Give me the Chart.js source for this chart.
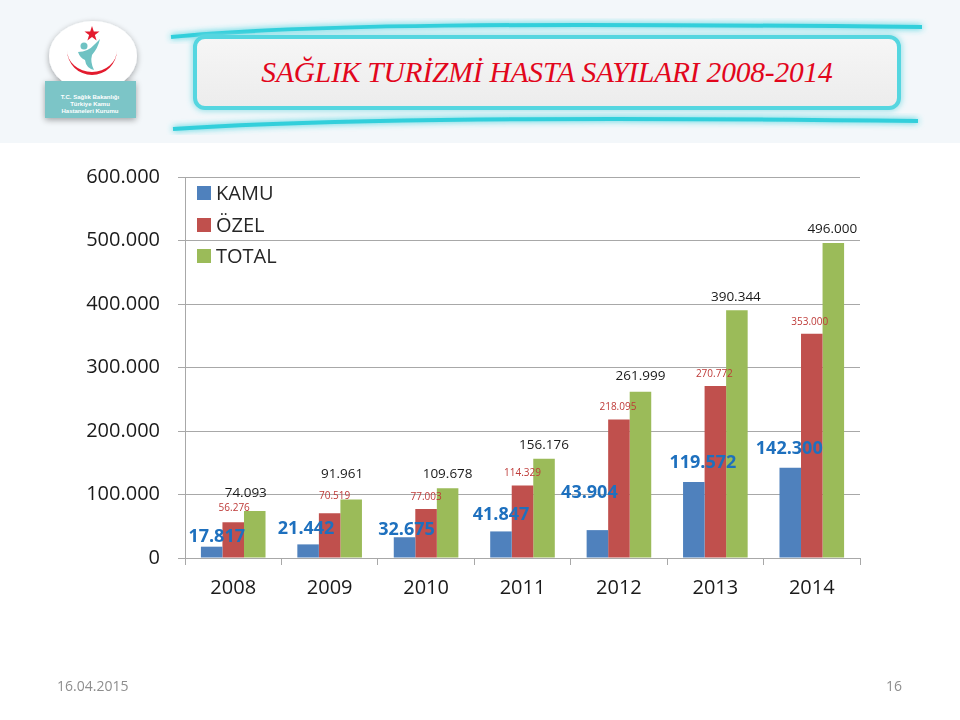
<!DOCTYPE html>
<html>
<head>
<meta charset="utf-8">
<script src="https://cdn.jsdelivr.net/npm/chart.js@4"></script>
<style>
  html, body { margin:0; padding:0; }
  body { width:960px; height:720px; position:relative; overflow:hidden; background:#ffffff; font-family:"Open Sans", sans-serif; }
  #hdr { position:absolute; left:0; top:0; width:960px; height:143px; }
  #title { position:absolute; left:195px; top:37px; width:704px; height:71px; display:flex; align-items:center; justify-content:center;
           font-family:"Liberation Serif", "DejaVu Serif", serif; font-style:italic; font-size:29.5px; color:#E2061C; letter-spacing:-0.2px; padding-left:0px; box-sizing:border-box; }
  #chart { position:absolute; left:0; top:0; }
  #legend { position:absolute; left:197px; top:178px; }
  .li { position:absolute; left:0; height:30px; white-space:nowrap; font-size:20px; color:#262626; }
  .sw { position:absolute; left:0; width:14px; height:14px; }
  .lt { position:absolute; left:19px; line-height:30px; top:0; }
  .foot { position:absolute; top:676px; font-size:14px; color:#8E8E8E; font-family:"Open Sans", sans-serif; }
</style>
</head>
<body>
<svg id="hdr" width="960" height="143" viewBox="0 0 960 143">
  <defs>
    <filter id="glow" x="-20%" y="-50%" width="140%" height="200%">
      <feGaussianBlur stdDeviation="3" result="b"/>
      <feMerge><feMergeNode in="b"/><feMergeNode in="SourceGraphic"/></feMerge>
    </filter>
    <filter id="shadow" x="-30%" y="-30%" width="160%" height="160%">
      <feGaussianBlur in="SourceAlpha" stdDeviation="3"/>
      <feOffset dx="0" dy="2" result="o"/>
      <feComponentTransfer><feFuncA type="linear" slope="0.35"/></feComponentTransfer>
      <feMerge><feMergeNode/><feMergeNode in="SourceGraphic"/></feMerge>
    </filter>
    <linearGradient id="boxg" x1="0" y1="0" x2="0" y2="1">
      <stop offset="0" stop-color="#F6F6F6"/>
      <stop offset="1" stop-color="#ECECEC"/>
    </linearGradient>
  </defs>
  <rect x="0" y="0" width="960" height="143" fill="#F3F7FA"/>
  <path d="M171,37 C 300,24 520,23 922,27" fill="none" stroke="#33CFDB" stroke-width="4" filter="url(#glow)"/>
  <path d="M173,129 C 330,118 600,117 918,121" fill="none" stroke="#33CFDB" stroke-width="4" filter="url(#glow)"/>
  <rect x="195" y="37" width="704" height="71" rx="10" ry="10" fill="url(#boxg)" stroke="#55D6E0" stroke-width="4" filter="url(#glow)"/>
  <g filter="url(#shadow)">
    <ellipse cx="93" cy="56" rx="44" ry="35" fill="#FFFFFF"/>
    <rect x="45" y="81" width="91" height="37" fill="#7CC5C7"/>
  </g>
  <path d="M67,50 A25,25 0 0 0 117,50 A25,22 0 0 1 67,50 Z" fill="#E31B2E"/>
  <polygon points="92,26 93.8,31.5 99.5,31.5 94.9,34.9 96.6,40.4 92,37 87.4,40.4 89.1,34.9 84.5,31.5 90.2,31.5" fill="#E31B2E"/>
  <circle cx="84" cy="46" r="3.5" fill="#6FC2C3"/>
  <path d="M78,52 Q88,52 95,44 L100,39 Q98,48 92,55 Q90,62 94,70 Q86,68 85,60 Q80,58 78,52 Z" fill="#6FC2C3"/>
  <g font-family="Liberation Sans, sans-serif" font-weight="bold" font-size="6" fill="#FFFFFF" text-anchor="middle">
    <text x="90" y="99">T.C. Sağlık Bakanlığı</text>
    <text x="90" y="106">Türkiye Kamu</text>
    <text x="90" y="113">Hastaneleri Kurumu</text>
  </g>
</svg>
<div id="title">SAĞLIK TURİZMİ HASTA SAYILARI 2008-2014</div>
<canvas id="chart" width="960" height="720"></canvas>
<div id="legend"></div>
<div class="foot" style="left:57px;">16.04.2015</div>
<div class="foot" style="left:886px;">16</div>
<script>
const categories = ['2008', '2009', '2010', '2011', '2012', '2013', '2014'];
const seriesNames = ['KAMU', 'ÖZEL', 'TOTAL'];
const kamu  = [17817, 21442, 32675, 41847, 43904, 119572, 142300];
const ozel  = [56276, 70519, 77003, 114329, 218095, 270772, 353000];
const total = [74093, 91961, 109678, 156176, 261999, 390344, 496000];
const yTicks = [0, 100000, 200000, 300000, 400000, 500000, 600000];

const colors = ['#4F81BD', '#C0504D', '#9BBB59'];

function fmt(v) {
  return String(v).replace(/\B(?=(\d{3})+(?!\d))/g, '.');
}

const legendEl = document.getElementById('legend');
seriesNames.forEach((n, i) => {
  const row = document.createElement('div');
  row.className = 'li';
  row.style.top = (i * 31.5) + 'px';
  const sw = document.createElement('div');
  sw.className = 'sw';
  sw.style.background = colors[i];
  sw.style.top = '8px';
  const t = document.createElement('div');
  t.className = 'lt';
  t.textContent = n;
  row.appendChild(sw);
  row.appendChild(t);
  legendEl.appendChild(row);
});

const labelPlugin = {
  id: 'valueLabels',
  afterDatasetsDraw(chart, args, opts) {
    const ctx = chart.ctx;
    ctx.save();
    ctx.textAlign = 'center';
    ctx.textBaseline = 'middle';
    chart.data.datasets.forEach((ds, di) => {
      const st = opts.styles[di];
      const meta = chart.getDatasetMeta(di);
      ctx.font = st.font;
      ctx.fillStyle = st.color;
      meta.data.forEach((el, i) => {
        const dx = st.dx[i] || 0, dy = st.dy[i] || 0;
        ctx.fillText(fmt(ds.data[i]), el.x + dx, el.y + dy);
      });
    });
    ctx.restore();
  }
};

const gridColor = '#A8A8A8';

new Chart(document.getElementById('chart'), {
  type: 'bar',
  data: {
    labels: categories,
    datasets: [
      { label: seriesNames[0], data: kamu,  backgroundColor: colors[0] },
      { label: seriesNames[1], data: ozel,  backgroundColor: colors[1] },
      { label: seriesNames[2], data: total, backgroundColor: colors[2] }
    ]
  },
  options: {
    responsive: false,
    animation: false,
    devicePixelRatio: 1,
    barPercentage: 1.0,
    categoryPercentage: 0.67,
    layout: { padding: { left: 0, top: 177, right: 100, bottom: 112 } },
    plugins: {
      legend: { display: false },
      tooltip: { enabled: false },
      title: { display: false },
      valueLabels: {
        styles: [
          { font: 'bold 18px "Open Sans"', color: '#1E70BE',
            dx: [5, -2, 2, 0, -8, 9, -1], dy: [-10, -16, -7, -17, -37, -19, -19] },
          { font: '10px "Open Sans"', color: '#BE3A38',
            dx: [1, 5, 0, 0, -1, -1, -2], dy: [-14, -17, -12, -12, -12, -12, -12] },
          { font: '13.5px "Open Sans"', color: '#1A1A1A',
            dx: [-9, -9, 0, 0, 0, -1, -1], dy: [-18, -25, -14, -14, -15, -13, -14] }
        ]
      }
    },
    scales: {
      x: {
        offset: true,
        afterFit: (s) => { s.height = 50; },
        grid: { display: true, offset: true, drawOnChartArea: false, drawTicks: true, tickLength: 7, color: gridColor, lineWidth: 1 },
        border: { display: true, color: gridColor, width: 1 },
        ticks: { padding: 11, color: '#1A1A1A', font: { family: 'Open Sans', size: 20 } }
      },
      y: {
        min: 0,
        max: 600000,
        afterFit: (s) => { s.width = 185; },
        afterBuildTicks: (s) => { s.ticks = yTicks.map(v => ({ value: v })); },
        grid: { color: gridColor, lineWidth: 1, drawTicks: true, tickLength: 7 },
        border: { display: true, color: gridColor, width: 1 },
        ticks: {
          padding: 18,
          color: '#1A1A1A',
          font: { family: 'Open Sans', size: 20 },
          callback: (v) => fmt(v)
        }
      }
    }
  },
  plugins: [labelPlugin]
});
</script>
</body>
</html>
